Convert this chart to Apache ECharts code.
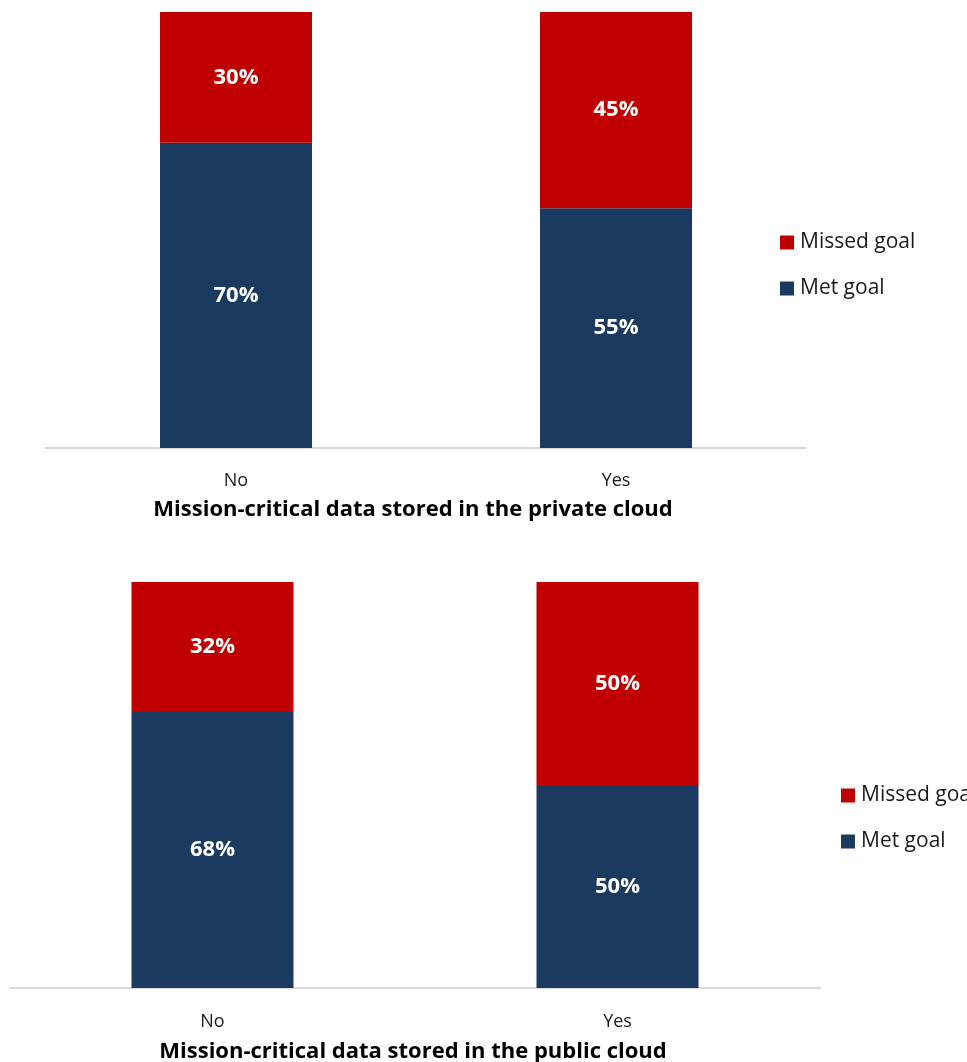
<!DOCTYPE html>
<html>
<head>
<meta charset="utf-8">
<script src="https://cdn.jsdelivr.net/npm/echarts@6/dist/echarts.min.js"></script>
<style>
  html, body { margin: 0; padding: 0; background: #ffffff; }
  #chart { width: 967px; height: 1062px; }
</style>
</head>
<body>
<div id="chart"></div>
<script>
// Goal attainment split by where mission-critical data is stored
const categories = ['No', 'Yes'];
const privateMet = [70, 55];
const privateMissed = [30, 45];
const publicMet = [68, 50];
const publicMissed = [32, 50];
const seriesNames = ['Missed goal', 'Met goal'];
const axisTitles = [
  'Mission-critical data stored in the private cloud',
  'Mission-critical data stored in the public cloud'
];

const RED = '#c00000';
const NAVY = '#1b3a5f';
const FONT = '"Open Sans", "Noto Sans", sans-serif';

const chart = echarts.init(document.getElementById('chart'), null, { renderer: 'canvas' });

function barSeries(name, data, axisIndex, color, stack) {
  return {
    name: name,
    type: 'bar',
    stack: stack,
    xAxisIndex: axisIndex,
    yAxisIndex: axisIndex,
    data: data,
    barWidth: '40%',
    itemStyle: { color: color },
    label: {
      show: true,
      position: 'inside',
      formatter: '{c}%',
      color: '#ffffff',
      fontFamily: FONT,
      fontWeight: 'bold',
      fontSize: 22
    },
    emphasis: { disabled: true }
  };
}

function xAxisFor(gridIndex, title, labelMargin, titleGap, titlePadding) {
  return {
    type: 'category',
    gridIndex: gridIndex,
    data: categories,
    axisLine: { lineStyle: { color: '#d9d9d9', width: 2 } },
    axisTick: { show: false },
    axisLabel: { color: '#1a1a1a', fontFamily: FONT, fontSize: 18, margin: labelMargin },
    name: title,
    nameLocation: 'middle',
    nameGap: titleGap,
    nameTextStyle: {
      color: '#000000', fontFamily: FONT, fontWeight: 'bold', fontSize: 22,
      padding: titlePadding
    }
  };
}

function yAxisFor(gridIndex) {
  return { type: 'value', gridIndex: gridIndex, min: 0, max: 100, show: false, splitLine: { show: false } };
}

const legendBase = {
  orient: 'vertical',
  data: seriesNames,
  padding: 0,
  itemWidth: 14,
  itemHeight: 14,
  itemGap: 25,
  icon: 'rect',
  selectedMode: false,
  textStyle: { color: '#1a1a1a', fontFamily: FONT, fontSize: 21, padding: [0, 0, 0, 1] }
};

chart.setOption({
  animation: false,
  grid: [
    { left: 46, top: 12, width: 760, height: 436, outerBoundsMode: 'none' },
    { left: 10, top: 582, width: 810, height: 406, outerBoundsMode: 'none' }
  ],
  xAxis: [
    xAxisFor(0, axisTitles[0], 24, 51, [0, 26, 0, 0]),
    xAxisFor(1, axisTitles[1], 25, 53, [0, 4, 0, 0])
  ],
  yAxis: [yAxisFor(0), yAxisFor(1)],
  legend: [
    Object.assign({}, legendBase, { left: 780, top: 232 }),
    Object.assign({}, legendBase, { left: 841, top: 785 })
  ],
  series: [
    barSeries('Met goal', privateMet, 0, NAVY, 'private'),
    barSeries('Missed goal', privateMissed, 0, RED, 'private'),
    barSeries('Met goal', publicMet, 1, NAVY, 'public'),
    barSeries('Missed goal', publicMissed, 1, RED, 'public')
  ]
});
</script>
</body>
</html>
